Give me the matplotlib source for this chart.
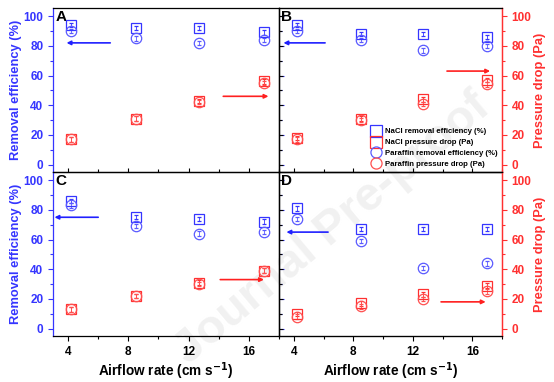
import numpy as np
import matplotlib
matplotlib.use('Agg')
import matplotlib.pyplot as plt
from matplotlib.ticker import MultipleLocator
from matplotlib.lines import Line2D

plt.rcParams['font.family'] = ['Liberation Sans', 'DejaVu Sans']
plt.rcParams['font.weight'] = 'bold'

# airflow rate (cm s-1)
airflow = [4.2, 8.5, 12.7, 17.0]

# panel data: NaCl efficiency, paraffin efficiency, NaCl pressure drop, paraffin pressure drop
nacl_eff = {'A': [94, 92, 92, 89], 'B': [94, 88, 88, 86],
            'C': [86, 75, 74, 72], 'D': [81, 67, 67, 67]}
paraf_eff = {'A': [90, 85, 82, 84], 'B': [90, 84, 77, 80],
             'C': [83, 69, 64, 65], 'D': [74, 59, 41, 44]}
nacl_dp = {'A': [17, 31, 43, 56], 'B': [18, 31, 44, 57],
           'C': [13, 22, 31, 39], 'D': [10, 17, 23, 29]}
paraf_dp = {'A': [17, 31, 42, 55], 'B': [17, 30, 41, 54],
            'C': [13, 22, 30, 39], 'D': [8, 15, 20, 25]}
err_eff = [1.5, 1.5, 1.5, 1.5]
err_dp = [1.5, 1.5, 1.5, 1.5]

# arrows: (y, x_start, x_end)
blue_arrow = {'A': (82, 6.8, 3.9), 'B': (82, 6.1, 3.3), 'C': (75, 6.0, 3.1), 'D': (65, 6.3, 3.5)}
red_arrow = {'A': (46, 14.3, 17.3), 'B': (63, 14.3, 17.2), 'C': (33, 14.1, 17.0), 'D': (18, 13.9, 16.9)}

BLUE = '#3535ff'
BLUE2 = '#5a5aff'
RED = '#ff3030'
RED2 = '#ff5050'

W, H = 554, 382
fig = plt.figure(figsize=(W / 100, H / 100), dpi=100)

# faint watermark behind everything
fig.text(0.60, 0.40, 'Journal Pre-proof', fontsize=34, color='#f1f1f1',
         rotation=40, ha='center', va='center', zorder=-5)

pos = {'A': (53, 8, 226), 'B': (279, 8, 223), 'C': (53, 172, 226), 'D': (279, 172, 223)}
ph = 164

for key in ['A', 'B', 'C', 'D']:
    x0, y0, w = pos[key]
    ax = fig.add_axes([x0 / W, (H - y0 - ph) / H, w / W, ph / H])
    ax.set_facecolor('none')
    ax.set_xlim(3, 18)
    ax.set_ylim(-5, 105.5)
    left = key in 'AC'
    bottom = key in 'CD'

    ax.errorbar(airflow, nacl_eff[key], yerr=err_eff, fmt='s', ms=7, mfc='none',
                mec=BLUE, mew=0.9, ecolor=BLUE, elinewidth=0.6, capsize=1.5, zorder=3)
    ax.errorbar(airflow, paraf_eff[key], yerr=err_eff, fmt='o', ms=7.5, mfc='none',
                mec=BLUE2, mew=0.9, ecolor=BLUE2, elinewidth=0.6, capsize=1.5, zorder=3)
    ax.errorbar(airflow, nacl_dp[key], yerr=err_dp, fmt='s', ms=7, mfc='none',
                mec=RED, mew=0.9, ecolor=RED, elinewidth=0.6, capsize=1.5, zorder=3)
    ax.errorbar(airflow, paraf_dp[key], yerr=err_dp, fmt='o', ms=7.5, mfc='none',
                mec=RED2, mew=0.9, ecolor=RED2, elinewidth=0.6, capsize=1.5, zorder=3)

    by, bx0, bx1 = blue_arrow[key]
    ax.annotate('', xy=(bx1, by), xytext=(bx0, by),
                arrowprops=dict(arrowstyle='-|>', color='#2020ff', lw=1.2,
                                mutation_scale=6, shrinkA=0, shrinkB=0))
    ry, rx0, rx1 = red_arrow[key]
    ax.annotate('', xy=(rx1, ry), xytext=(rx0, ry),
                arrowprops=dict(arrowstyle='-|>', color='#ff2020', lw=1.2,
                                mutation_scale=6, shrinkA=0, shrinkB=0))

    ax.text(0.01, 0.985, key, transform=ax.transAxes, ha='left', va='top',
            fontsize=11, fontweight='bold')

    ax.xaxis.set_major_locator(MultipleLocator(4))
    ax.xaxis.set_minor_locator(MultipleLocator(2))
    ax.yaxis.set_major_locator(MultipleLocator(20))
    ax.yaxis.set_minor_locator(MultipleLocator(10))

    for s in ax.spines.values():
        s.set_linewidth(0.9)

    if bottom:
        ax.tick_params(axis='x', which='both', direction='out', labelsize=8.5,
                       labelcolor='black', top=False)
        ax.tick_params(axis='x', which='major', length=3.5, width=0.8)
        ax.tick_params(axis='x', which='minor', length=2, width=0.8)
        ax.set_xticks([4, 8, 12, 16])
        ax.set_xticklabels(['4', '8', '12', '16'], fontweight='bold')
        ax.set_xlabel('Airflow rate (cm s$^\\mathbf{-1}$)', fontsize=9.8,
                      fontweight='bold', labelpad=2)
    else:
        ax.tick_params(axis='x', which='both', direction='in', labelbottom=False)
        ax.tick_params(axis='x', which='major', length=3, width=0.8)
        ax.tick_params(axis='x', which='minor', length=2, width=0.8)

    if left:
        ax.spines['left'].set_color(BLUE)
        ax.tick_params(axis='y', which='both', direction='out', colors=BLUE,
                       labelsize=8.5, right=True)
        ax.tick_params(axis='y', which='major', length=3.5, width=0.8)
        ax.tick_params(axis='y', which='minor', length=2, width=0.8)
        ax.set_yticks([0, 20, 40, 60, 80, 100])
        ax.set_yticklabels(['0', '20', '40', '60', '80', '100'], fontweight='bold')
        ax.set_ylabel('Removal efficiency (%)', color=BLUE, fontsize=9.3,
                      fontweight='bold', labelpad=1)
        ax.tick_params(axis='y', which='both', labelright=False)
    else:
        ax.spines['right'].set_color(RED)
        ax.tick_params(axis='y', which='both', direction='in', labelleft=False,
                       colors='black')
        ax.tick_params(axis='y', which='major', length=3, width=0.8)
        ax.tick_params(axis='y', which='minor', length=2, width=0.8)
        ax2 = ax.twinx()
        ax2.set_ylim(ax.get_ylim())
        ax2.spines['right'].set_color(RED)
        ax2.spines['right'].set_linewidth(0.9)
        ax2.yaxis.set_major_locator(MultipleLocator(20))
        ax2.yaxis.set_minor_locator(MultipleLocator(10))
        ax2.tick_params(axis='y', which='both', direction='out', colors=RED, labelsize=8.5)
        ax2.tick_params(axis='y', which='major', length=3.5, width=0.8)
        ax2.tick_params(axis='y', which='minor', length=2, width=0.8)
        ax2.set_yticks([0, 20, 40, 60, 80, 100])
        ax2.set_yticklabels(['0', '20', '40', '60', '80', '100'], fontweight='bold')
        ax2.set_ylabel('Pressure drop (Pa)', color=RED, fontsize=9.3,
                       fontweight='bold', labelpad=1.5)

    if key == 'B':
        handles = [
            Line2D([], [], ls='none', marker='s', ms=8, mfc='none', mec=BLUE, mew=0.9),
            Line2D([], [], ls='none', marker='s', ms=8, mfc='none', mec=RED, mew=0.9),
            Line2D([], [], ls='none', marker='o', ms=8, mfc='none', mec=BLUE2, mew=0.9),
            Line2D([], [], ls='none', marker='o', ms=8, mfc='none', mec=RED2, mew=0.9),
        ]
        labels = ['NaCl removal efficiency (%)', 'NaCl pressure drop (Pa)',
                  'Paraffin removal efficiency (%)', 'Paraffin pressure drop (Pa)']
        ax.legend(handles, labels, loc='lower right', frameon=False,
                  prop={'size': 5.6, 'weight': 'bold'}, handlelength=1.2,
                  handletextpad=0.6, labelspacing=0.45, borderaxespad=0.1,
                  bbox_to_anchor=(1.0, 0.0))

fig.savefig('out.png', dpi=100)
